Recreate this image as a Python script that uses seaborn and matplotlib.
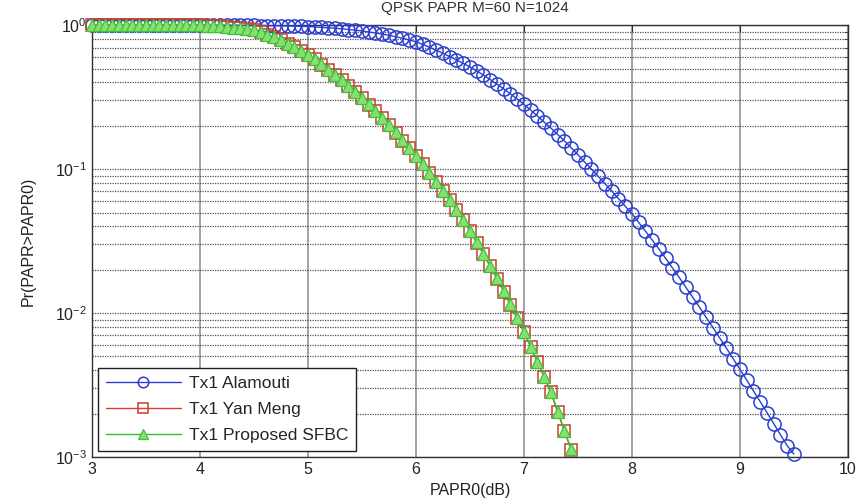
import numpy as np
import pandas as pd
import matplotlib
matplotlib.use("Agg")
import matplotlib.pyplot as plt
import seaborn as sns
from matplotlib.ticker import LogLocator, FixedLocator, NullFormatter

# PAPR threshold axis (dB), sampled every 0.0625 dB
papr0_step = 0.0625
papr0_start = 3.0

# CCDF Pr(PAPR > PAPR0) for Tx1 with Alamouti coding
alamouti = [
    1.0, 1.0, 1.0, 1.0, 1.0, 1.0, 1.0, 1.0, 1.0, 1.0, 1.0, 1.0, 1.0, 1.0, 1.0, 1.0,
    0.9995,
    0.9993, 0.9991, 0.9988, 0.9984, 0.9979, 0.9975, 0.9968, 0.9959,
    0.9947, 0.9933, 0.9917, 0.9899, 0.9876, 0.9851, 0.9824, 0.979,
    0.973, 0.966, 0.959, 0.953, 0.944, 0.933, 0.923, 0.912,
    0.897, 0.883, 0.867, 0.851, 0.832, 0.811, 0.789, 0.767,
    0.736, 0.703, 0.670, 0.638, 0.605, 0.574, 0.543, 0.513,
    0.481, 0.450, 0.419, 0.389, 0.361, 0.333, 0.307, 0.282,
    0.257, 0.234, 0.212, 0.193, 0.174, 0.157, 0.141, 0.126,
    0.112, 0.100, 0.0891, 0.0794, 0.0705, 0.0625, 0.0553, 0.0490,
    0.0427, 0.0371, 0.0322, 0.0279, 0.0240, 0.0206, 0.0177, 0.0151,
    0.0129, 0.0110, 0.00933, 0.00794, 0.00673, 0.00570, 0.00482, 0.00407,
    0.00343, 0.00288, 0.00243, 0.00204, 0.00171, 0.00143, 0.00120, 0.00105,
]

# CCDF for Tx1 with the Yan Meng scheme
yan_meng = [
    1.0, 1.0, 1.0, 1.0, 1.0, 1.0, 1.0, 1.0, 1.0, 1.0, 1.0, 1.0, 1.0, 1.0, 1.0,
    0.9989, 0.9954,
    0.9931, 0.9886, 0.9817, 0.9727, 0.962, 0.951, 0.938, 0.923,
    0.891, 0.859, 0.822, 0.785, 0.745, 0.705, 0.664, 0.624,
    0.578, 0.533, 0.491, 0.452, 0.413, 0.377, 0.344, 0.313,
    0.281, 0.252, 0.226, 0.202, 0.179, 0.158, 0.140, 0.123,
    0.108, 0.0940, 0.0817, 0.0708, 0.0608, 0.0520, 0.0441, 0.0372,
    0.0309, 0.0257, 0.0211, 0.0174, 0.0141, 0.0114, 0.00920, 0.00741,
    0.00582, 0.00457, 0.00359, 0.00282, 0.00205, 0.00152, 0.00112,
]

# CCDF for Tx1 with the proposed SFBC scheme
proposed_sfbc = [
    1.0, 1.0, 1.0, 1.0, 1.0, 1.0, 1.0, 1.0, 1.0, 1.0, 1.0, 1.0, 1.0, 1.0, 1.0,
    0.9990, 0.9956,
    0.9933, 0.9889, 0.9820, 0.9730, 0.963, 0.952, 0.939, 0.924,
    0.892, 0.860, 0.823, 0.786, 0.746, 0.706, 0.665, 0.625,
    0.579, 0.534, 0.492, 0.453, 0.414, 0.378, 0.345, 0.314,
    0.282, 0.253, 0.227, 0.203, 0.180, 0.159, 0.141, 0.124,
    0.109, 0.0945, 0.0820, 0.0711, 0.0611, 0.0522, 0.0443, 0.0374,
    0.0311, 0.0258, 0.0212, 0.0175, 0.0142, 0.0115, 0.00925, 0.00745,
    0.00585, 0.00460, 0.00361, 0.00284, 0.00207, 0.00153, 0.00113,
]

series_names = ["Tx1 Alamouti", "Tx1 Yan Meng", "Tx1 Proposed SFBC"]
x_ticks = [3, 4, 5, 6, 7, 8, 9, 10]
title_text = "QPSK PAPR M=60 N=1024"


def papr_axis(values):
    return papr0_start + papr0_step * np.arange(len(values))


frames = []
for name, vals in zip(series_names, [alamouti, yan_meng, proposed_sfbc]):
    frames.append(pd.DataFrame({"PAPR0": papr_axis(vals), "CCDF": vals, "scheme": name}))
df = pd.concat(frames, ignore_index=True)

sns.set_style("white")
plt.rcParams["font.family"] = ["Liberation Sans", "DejaVu Sans"]
plt.rcParams["mathtext.fontset"] = "custom"
plt.rcParams["mathtext.rm"] = "Liberation Sans"
plt.rcParams["mathtext.it"] = "Liberation Sans"

fig = plt.figure(figsize=(8.62, 5.04), dpi=100)
ax = fig.add_axes([0.1067, 0.093, 0.877, 0.857])

styles = {
    "Tx1 Alamouti": dict(color="#2a3fd0", marker="o", markersize=9.5,
                         markerfacecolor="none", markeredgecolor="#2a3fd0", markeredgewidth=1.1),
    "Tx1 Yan Meng": dict(color="#d8402a", marker="s", markersize=9,
                         markerfacecolor="none", markeredgecolor="#c8402a", markeredgewidth=1.1),
    "Tx1 Proposed SFBC": dict(color="#30c030", marker="^", markersize=9,
                              markerfacecolor="#86e070", markeredgecolor="#40c040", markeredgewidth=0.9),
}

for name in series_names:
    sub = df[df["scheme"] == name]
    sns.lineplot(data=sub, x="PAPR0", y="CCDF", ax=ax, label=name,
                 linewidth=1.0, clip_on=False, zorder=3, **styles[name])

ax.set_yscale("log")
ax.set_xlim(3, 10)
ax.set_ylim(1e-3, 1)
ax.xaxis.set_major_locator(FixedLocator(x_ticks))
ax.set_xticklabels([str(t) for t in x_ticks])
ax.yaxis.set_major_locator(LogLocator(base=10, numticks=10))
ax.yaxis.set_minor_locator(LogLocator(base=10, subs=np.arange(2, 10), numticks=10))
ax.yaxis.set_minor_formatter(NullFormatter())

# grid: solid vertical lines, dotted horizontal lines
ax.xaxis.grid(True, which="major", color="#8a8a8a", linestyle="-", linewidth=1.1)
ax.yaxis.grid(True, which="major", color="#505050", linestyle=(0, (1, 1)), linewidth=0.9)
ax.yaxis.grid(True, which="minor", color="#505050", linestyle=(0, (1, 1)), linewidth=0.9)
ax.set_axisbelow(True)

for side in ["left", "right", "top", "bottom"]:
    ax.spines[side].set_visible(True)
    ax.spines[side].set_color("#303030")
    ax.spines[side].set_linewidth(1.0)

ax.tick_params(which="both", direction="in", top=True, right=True, colors="#303030",
               labelsize=11.5, labelcolor="#222222")
ax.tick_params(which="major", length=5)
ax.tick_params(which="minor", length=3)

ax.set_xlabel("PAPR0(dB)", fontsize=11.5, color="#222222", labelpad=4)
ax.set_ylabel("Pr(PAPR>PAPR0)", fontsize=11.5, color="#222222", labelpad=14)

fig.text(0.551, 0.977, title_text, ha="center", va="baseline", fontsize=11, color="#333333")

leg = ax.legend(loc="lower left", bbox_to_anchor=(0.0, 0.0), fontsize=12.5, frameon=True,
                fancybox=False, edgecolor="#202020", framealpha=1.0, handlelength=4.3,
                markerscale=0.8, borderpad=0.45, labelspacing=0.62, handletextpad=0.5,
                borderaxespad=0.35)
leg.get_frame().set_linewidth(1.0)

fig.savefig("out.png", dpi=100)
